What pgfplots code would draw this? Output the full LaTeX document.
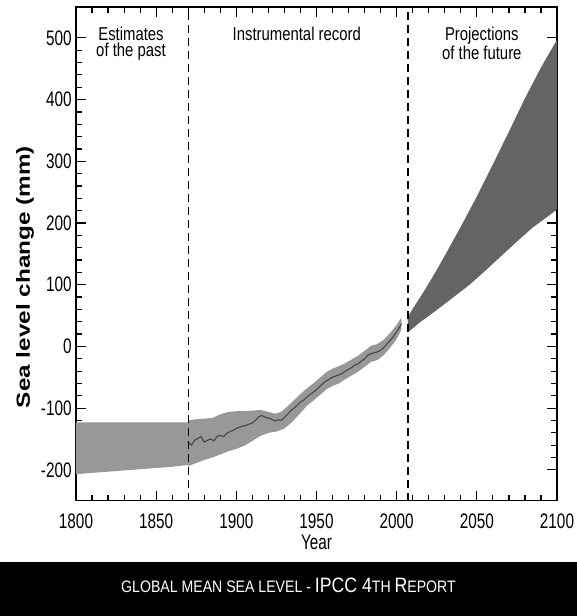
\documentclass[border=0pt]{standalone}
\usepackage{pgfplots}
\pgfplotsset{compat=1.18}
\usepackage{fontspec}
\setmainfont{Liberation Sans}
\newfontfamily\ticknarrow[FakeStretch=0.73]{Liberation Sans}
\newfontfamily\textnarrow[FakeStretch=0.8]{Liberation Sans}
\newfontfamily\bannerfont[FakeStretch=0.85]{Liberation Sans}
\newfontfamily\labfont[FakeStretch=1.28]{Liberation Sans}
\definecolor{bandgray}{RGB}{152,152,152}
\definecolor{projgray}{RGB}{100,100,100}
\definecolor{linegray}{RGB}{70,70,70}
\begin{document}
\begin{tikzpicture}
\useasboundingbox (0,0) rectangle (288.5pt,308pt);
\begin{axis}[
  at={(38pt,57.65pt)}, anchor=south west,
  scale only axis, width=240.5pt, height=246.85pt,
  xmin=1800, xmax=2100, ymin=-250, ymax=550,
  xtick={1800,1850,...,2100}, ytick={-200,-100,...,500},
  minor x tick num=4, minor y tick num=4,
  tick align=inside, major tick length=5pt, minor tick length=2.8pt,
  xtick pos=both, ytick pos=both,
  axis line style={line width=0.7pt},
  every tick/.style={black, line width=0.6pt},
  /pgf/number format/assume math mode=true,
  /pgf/number format/set thousands separator={},
  ticklabel style={font=\ticknarrow\fontsize{10.5}{12}\selectfont},
  xticklabel style={inner sep=0pt, anchor=north, yshift=-6.6pt},
  yticklabel style={inner sep=0pt, anchor=east, xshift=-2pt},
  xlabel={Year},
  xlabel style={font=\ticknarrow\fontsize{10.5}{12}\selectfont, inner sep=0pt, anchor=north, at={(axis description cs:0.5,-0.0695)}},
  ylabel={Sea level change (mm)},
  ylabel style={font=\labfont\bfseries\fontsize{9.5}{11}\selectfont, inner sep=0pt, anchor=center, at={(axis description cs:-0.106,0.453)}},
  clip=true,
]
% Estimates of the past
\addplot[fill=bandgray, draw=none] coordinates {
 (1800,-123) (1820,-123) (1840,-123) (1860,-123) (1870,-123)
 (1870,-192) (1860,-195) (1840,-199) (1820,-203) (1800,-207)
} -- cycle;
% Instrumental record band
\addplot[fill=bandgray, draw=none] coordinates {
 (1870,-120) (1875,-118) (1880,-117) (1885,-116) (1890,-110) (1895,-106)
 (1900,-105) (1905,-105) (1910,-104) (1915,-103) (1920,-106) (1924,-109)
 (1928,-106) (1932,-97) (1936,-87) (1940,-77) (1944,-68) (1948,-60)
 (1952,-51) (1956,-42) (1960,-36) (1964,-32) (1968,-27) (1972,-21)
 (1976,-15) (1980,-7) (1984,1) (1988,4) (1992,11) (1996,22) (2000,35) (2003,47)
 (2003,27) (2000,12) (1996,-2) (1992,-14) (1988,-22) (1984,-25) (1980,-33)
 (1976,-41) (1972,-47) (1968,-53) (1964,-60) (1960,-64) (1956,-70) (1952,-79)
 (1948,-88) (1944,-96) (1940,-108) (1935,-122) (1930,-133) (1925,-138)
 (1920,-140) (1915,-145) (1910,-153) (1905,-161) (1900,-166) (1895,-170)
 (1890,-175) (1885,-180) (1880,-184) (1875,-189) (1870,-194)
} -- cycle;
% Instrumental record central estimate
\addplot[linegray, line width=0.55pt] coordinates {
 (1870,-155) (1872,-160) (1874,-152) (1876,-149) (1878,-146) (1880,-155)
 (1882,-152) (1884,-150) (1886,-153) (1888,-146) (1890,-144) (1892,-146)
 (1894,-141) (1896,-138) (1898,-136) (1900,-133) (1902,-131) (1904,-129)
 (1906,-128) (1908,-126) (1910,-124) (1912,-120) (1914,-114) (1916,-112)
 (1918,-115) (1920,-116) (1922,-118) (1924,-121) (1926,-119) (1928,-120)
 (1930,-115) (1932,-110) (1934,-104) (1936,-100) (1938,-95) (1940,-90)
 (1942,-87) (1944,-82) (1946,-78) (1948,-74) (1950,-70) (1952,-65)
 (1954,-60) (1956,-56) (1958,-53) (1960,-50) (1962,-48) (1964,-46)
 (1966,-44) (1968,-40) (1970,-37) (1972,-34) (1974,-30) (1976,-28)
 (1978,-24) (1980,-20) (1982,-14) (1984,-12) (1986,-10) (1988,-9)
 (1990,-6) (1992,-2) (1994,4) (1996,10) (1998,16) (2000,24) (2002,32) (2003,37)
};
% Projections of the future
\addplot[fill=projgray, draw=none] coordinates {
 (2007,48) (2010,61) (2015,81) (2020,102) (2025,124) (2030,147) (2040,194)
 (2050,243) (2060,295) (2070,348) (2080,402) (2090,452) (2100,497)
 (2100,222) (2095,212) (2085,193) (2075,170) (2065,146) (2055,122) (2045,99)
 (2035,79) (2025,59) (2015,40) (2007,23)
} -- cycle;
% Period dividers
\addplot[black, line width=0.65pt, dash pattern=on 4pt off 2.5pt] coordinates {(1870,-250) (1870,550)};
\addplot[black, line width=0.65pt, dash pattern=on 4pt off 2.5pt] coordinates {(2007,-250) (2007,550)};
% Period titles
\node[anchor=north, align=center, inner sep=0pt, font=\textnarrow\fontsize{9.3}{8}\selectfont] at (axis cs:1834.3,518) {Estimates\\of the past};
\node[anchor=north, align=center, inner sep=0pt, font=\textnarrow\fontsize{9.3}{8}\selectfont] at (axis cs:1937.7,518) {Instrumental record};
\node[anchor=north, align=center, inner sep=0pt, font=\textnarrow\fontsize{9.3}{8}\selectfont] at (axis cs:2053.1,518) {Projections\\of the future};
\end{axis}
\fill[black] (0,0) rectangle (288.5pt,27pt);
\node[text=white, inner sep=0pt, anchor=center, font=\bannerfont] at (144.25pt,15.5pt)
 {\fontsize{8.3}{10}\selectfont GLOBAL MEAN SEA LEVEL - \fontsize{10.4}{12}\selectfont IPCC 4\fontsize{8.3}{10}\selectfont TH \fontsize{10.4}{12}\selectfont R\fontsize{8.3}{10}\selectfont EPORT};
\end{tikzpicture}
\end{document}
